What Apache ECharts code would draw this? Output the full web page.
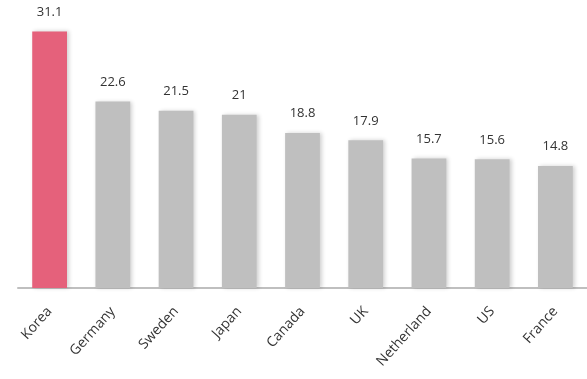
<!DOCTYPE html>
<html>
<head>
<meta charset="utf-8">
<script src="https://cdn.jsdelivr.net/npm/echarts@6/dist/echarts.min.js"></script>
<style>html,body{margin:0;padding:0;background:#fff;}#c{width:587px;height:379px;}</style>
</head>
<body>
<div id="c"></div>
<script>
var categories = ['Korea','Germany','Sweden','Japan','Canada','UK','Netherland','US','France'];
var values = [31.1, 22.6, 21.5, 21, 18.8, 17.9, 15.7, 15.6, 14.8];
var highlightCategory = 'Korea';

var chart = echarts.init(document.getElementById('c'), null, {renderer:'canvas'});
chart.setOption({
  animation: false,
  grid: {left: 18, top: 24, width: 572, bottom: 91, containLabel: false},
  xAxis: {
    type: 'category',
    data: categories,
    axisLine: {show: true, lineStyle: {color: '#BFBFBF', width: 2}},
    axisTick: {show: false},
    axisLabel: {rotate: 48, margin: 21, color: '#333333', fontSize: 14, fontFamily: 'Open Sans, sans-serif', interval: 0}
  },
  yAxis: {type: 'value', min: 0, max: 32, show: false, splitLine: {show: false}},
  series: [{
    type: 'bar',
    barCategoryGap: '45%',
    data: values.map(function(v, i){
      return {value: v, itemStyle: {color: categories[i] === highlightCategory ? '#E5617B' : '#BFBFBF'}};
    }),
    itemStyle: {shadowBlur: 4, shadowOffsetX: 2, shadowOffsetY: 0, shadowColor: 'rgba(0,0,0,0.18)'},
    label: {show: true, position: 'top', distance: 13, color: '#333333', fontSize: 13, fontFamily: 'Open Sans, sans-serif'}
  }]
});
</script>
</body>
</html>
